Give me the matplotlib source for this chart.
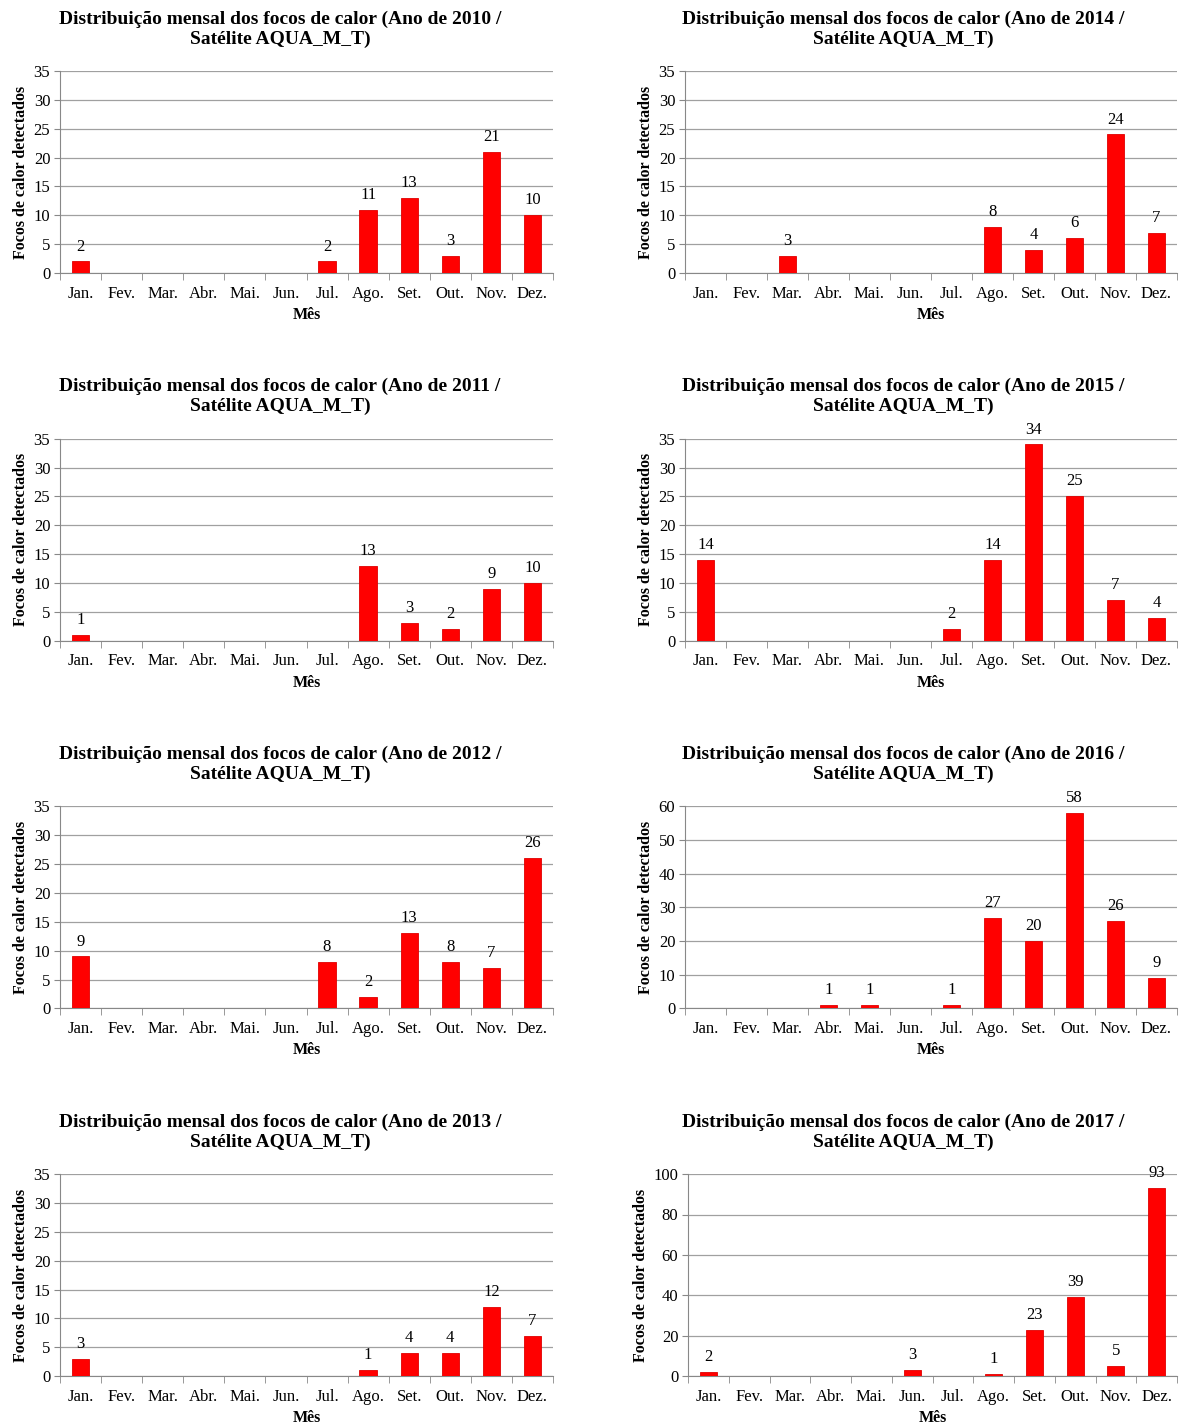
import matplotlib

matplotlib.use("Agg")
import matplotlib.pyplot as plt
import numpy as np

plt.rcParams["font.family"] = ["Liberation Serif", "DejaVu Serif"]

months = ["Jan.", "Fev.", "Mar.", "Abr.", "Mai.", "Jun.",
          "Jul.", "Ago.", "Set.", "Out.", "Nov.", "Dez."]

focos_2010 = [2, 0, 0, 0, 0, 0, 2, 11, 13, 3, 21, 10]
focos_2011 = [1, 0, 0, 0, 0, 0, 0, 13, 3, 2, 9, 10]
focos_2012 = [9, 0, 0, 0, 0, 0, 8, 2, 13, 8, 7, 26]
focos_2013 = [3, 0, 0, 0, 0, 0, 0, 1, 4, 4, 12, 7]
focos_2014 = [0, 0, 3, 0, 0, 0, 0, 8, 4, 6, 24, 7]
focos_2015 = [14, 0, 0, 0, 0, 0, 2, 14, 34, 25, 7, 4]
focos_2016 = [0, 0, 0, 1, 1, 0, 1, 27, 20, 58, 26, 9]
focos_2017 = [2, 0, 0, 0, 0, 3, 0, 1, 23, 39, 5, 93]

# (year, values, ymax, ystep, column, row)
panels = [
    (2010, focos_2010, 35, 5, 0, 0),
    (2011, focos_2011, 35, 5, 0, 1),
    (2012, focos_2012, 35, 5, 0, 2),
    (2013, focos_2013, 35, 5, 0, 3),
    (2014, focos_2014, 35, 5, 1, 0),
    (2015, focos_2015, 35, 5, 1, 1),
    (2016, focos_2016, 60, 10, 1, 2),
    (2017, focos_2017, 100, 20, 1, 3),
]

W, H = 1182, 1426
fig = plt.figure(figsize=(W / 100, H / 100), dpi=100)

GRAY = "#888888"
x = np.arange(len(months))

for year, vals, ymax, ystep, col, row in panels:
    left = 60 if col == 0 else (685 if ymax < 100 else 688)
    right = 553 if col == 0 else 1177
    top = 71 + row * 367.7
    bottom = top + 202
    ax = fig.add_axes([left / W, 1 - bottom / H, (right - left) / W, (bottom - top) / H])

    ax.bar(x, vals, width=0.42, color="#FF0000", edgecolor="#E00000", linewidth=0.6, zorder=3)
    for xi, v in zip(x, vals):
        if v:
            ax.annotate(str(v), (xi, v), xytext=(0, 5), textcoords="offset points",
                        ha="center", va="bottom", fontsize=12)

    ax.set_xlim(-0.5, 11.5)
    ax.set_ylim(0, ymax)
    ax.set_yticks(np.arange(0, ymax + 1, ystep))
    ax.set_xticks(x)
    ax.set_xticklabels(months, fontsize=12)
    ax.set_xticks(np.arange(-0.5, 12, 1), minor=True)
    ax.tick_params(axis="x", which="major", length=0, pad=9)
    ax.tick_params(axis="x", which="minor", length=5, color=GRAY)
    ax.tick_params(axis="y", length=4, color=GRAY, labelsize=12, pad=3)
    ax.yaxis.grid(True, color="#A0A0A0", linewidth=0.9, zorder=0)
    ax.set_axisbelow(True)
    for s in ("top", "right"):
        ax.spines[s].set_visible(False)
    for s in ("left", "bottom"):
        ax.spines[s].set_color(GRAY)

    ax.set_xlabel("Mês", fontsize=11.5, fontweight="bold", labelpad=4)
    ax.set_ylabel("Focos de calor detectados", fontsize=11.5, fontweight="bold", labelpad=3)

    cx = 280 if col == 0 else 903
    fig.text(cx / W, 1 - (top - 42) / H,
             f"Distribuição mensal dos focos de calor (Ano de {year} /\nSatélite AQUA_M_T)",
             ha="center", va="center", fontsize=14, fontweight="bold", linespacing=1.2)

fig.savefig("out.png", dpi=100, facecolor="white")
